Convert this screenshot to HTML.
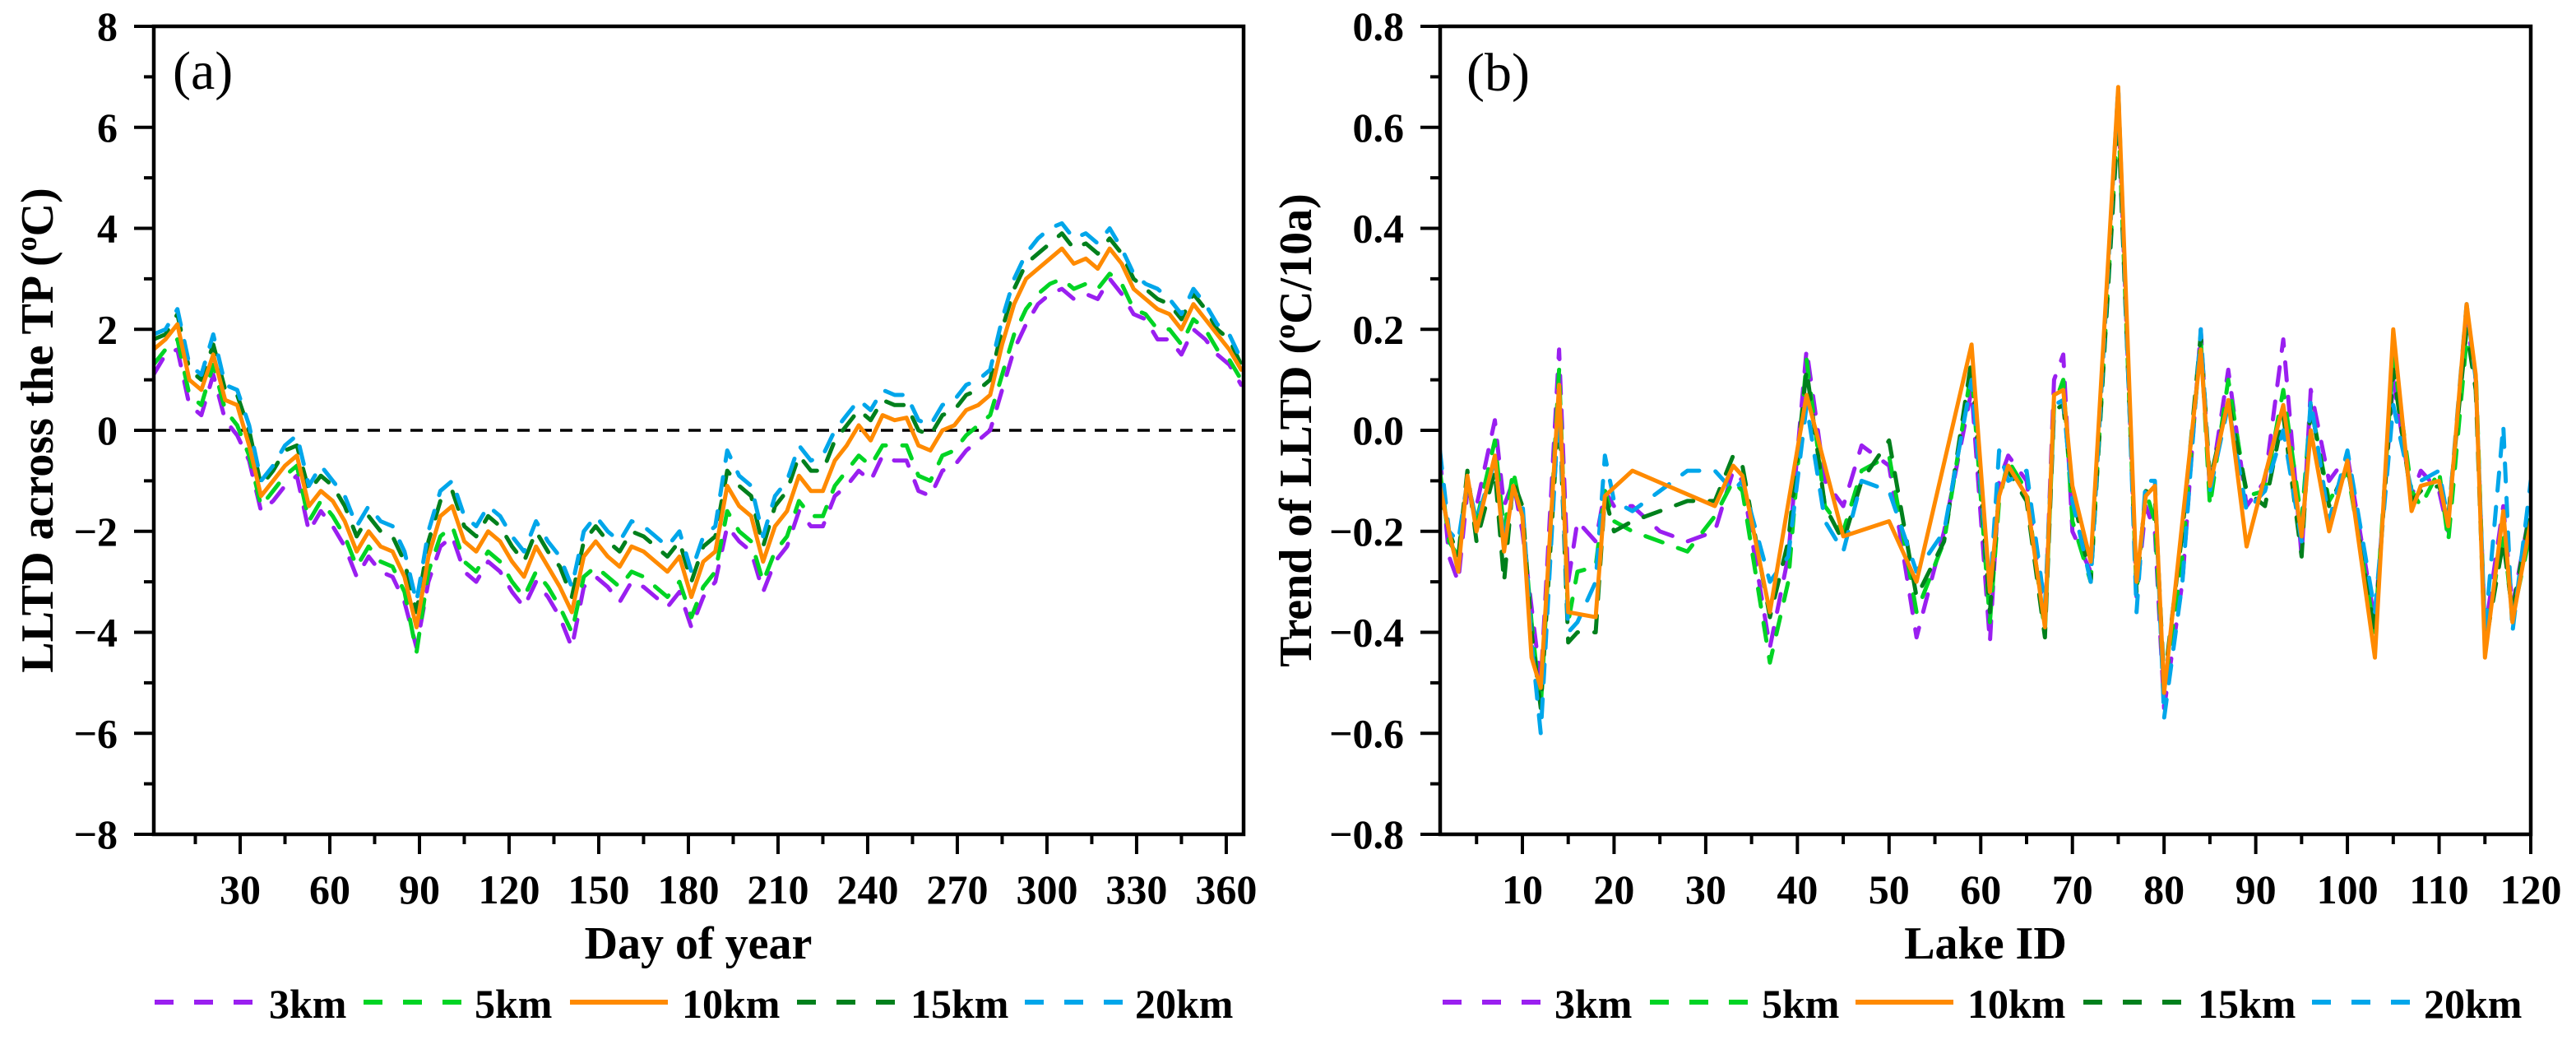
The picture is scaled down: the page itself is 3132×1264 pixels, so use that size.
<!DOCTYPE html>
<html><head><meta charset="utf-8"><style>
html,body{margin:0;padding:0;background:#fff;}
svg{display:block;}
text,tspan{font-family:"Liberation Serif","Times New Roman",serif;}
</style></head><body>
<svg id="fig" width="3132" height="1264" viewBox="0 0 3132 1264" xmlns="http://www.w3.org/2000/svg">
<rect width="3132" height="1264" fill="#fff"/>
<g id="pa"></g>
<g id="pb"></g>
</svg>
<script>
// ---------- Panel (a) data ----------
const dayStart = 1, dayStep = 4;
const aLabels = ["3km","5km","10km","15km","20km"];
const a3km = [1.1,1.5,1.6,0.5,0.3,1.1,0.2,-0.1,-0.6,-1.6,
-1.4,-1.1,-0.9,-2.0,-1.6,-1.9,-2.3,-2.9,-2.5,-2.8,
-2.9,-3.4,-4.3,-3.0,-2.3,-2.1,-2.8,-3.0,-2.6,-2.8,
-3.2,-3.5,-3.0,-3.3,-3.7,-4.3,-3.1,-2.9,-3.1,-3.4,
-3.0,-3.1,-3.3,-3.5,-3.2,-3.9,-3.3,-3.0,-1.9,-2.2,
-2.4,-3.2,-2.6,-2.3,-1.6,-1.9,-1.9,-1.3,-1.1,-0.8,
-1.0,-0.5,-0.6,-0.6,-1.2,-1.3,-0.8,-0.7,-0.4,-0.2,
0.0,0.8,1.6,2.1,2.5,2.7,2.8,2.6,2.7,2.6,
3.0,2.7,2.3,2.2,1.8,1.8,1.5,2.0,1.8,1.5,
1.3,0.9];
const a5km = [1.3,1.6,1.8,0.7,0.5,1.3,0.4,0.1,-0.5,-1.5,
-1.2,-0.9,-0.7,-1.8,-1.4,-1.7,-2.1,-2.7,-2.3,-2.6,
-2.7,-3.2,-4.4,-2.8,-2.1,-1.9,-2.6,-2.8,-2.4,-2.6,
-3.0,-3.3,-2.8,-3.1,-3.5,-4.0,-2.9,-2.7,-2.9,-3.1,
-2.8,-2.9,-3.1,-3.3,-3.0,-3.7,-3.1,-2.8,-1.6,-2.0,
-2.2,-3.0,-2.4,-2.1,-1.4,-1.7,-1.7,-1.1,-0.8,-0.5,
-0.7,-0.3,-0.3,-0.3,-0.9,-1.0,-0.5,-0.4,-0.1,0.1,
0.3,1.1,1.9,2.4,2.7,2.9,3.0,2.8,2.9,2.8,
3.1,2.9,2.4,2.3,2.0,2.0,1.7,2.2,2.0,1.6,
1.4,1.0];
const a10km = [1.6,1.8,2.1,1.0,0.8,1.5,0.6,0.5,-0.3,-1.3,
-1.0,-0.7,-0.5,-1.5,-1.2,-1.4,-1.8,-2.4,-2.0,-2.3,
-2.4,-2.9,-3.9,-2.5,-1.7,-1.5,-2.2,-2.4,-2.0,-2.2,
-2.6,-2.9,-2.3,-2.7,-3.1,-3.6,-2.5,-2.2,-2.5,-2.7,
-2.3,-2.4,-2.6,-2.8,-2.5,-3.3,-2.6,-2.4,-1.1,-1.5,
-1.7,-2.6,-1.9,-1.6,-0.9,-1.2,-1.2,-0.6,-0.3,0.1,
-0.2,0.3,0.2,0.25,-0.3,-0.4,0.0,0.1,0.4,0.5,
0.7,1.7,2.5,3.0,3.2,3.4,3.6,3.3,3.4,3.2,
3.6,3.3,2.8,2.6,2.4,2.3,2.0,2.5,2.2,1.9,
1.6,1.2];
const a15km = [1.8,1.9,2.3,1.2,1.0,1.7,0.8,0.7,0.0,-1.1,
-0.8,-0.4,-0.3,-1.2,-0.9,-1.1,-1.5,-2.1,-1.7,-2.0,
-2.1,-2.6,-3.6,-2.2,-1.4,-1.2,-1.9,-2.1,-1.7,-1.9,
-2.3,-2.6,-2.0,-2.4,-2.7,-3.3,-2.2,-1.9,-2.2,-2.4,
-2.0,-2.1,-2.3,-2.5,-2.2,-3.0,-2.3,-2.1,-0.8,-1.1,
-1.3,-2.3,-1.5,-1.2,-0.5,-0.8,-0.8,-0.2,0.1,0.4,
0.2,0.6,0.5,0.5,0.0,-0.1,0.3,0.4,0.7,0.8,
1.0,2.0,2.8,3.3,3.5,3.7,3.9,3.6,3.7,3.5,
3.8,3.5,3.0,2.8,2.6,2.5,2.2,2.7,2.4,2.0,
1.8,1.3];
const a20km = [1.9,2.0,2.4,1.3,1.1,1.9,0.9,0.8,0.1,-1.0,
-0.7,-0.3,-0.1,-1.1,-0.7,-1.0,-1.3,-1.9,-1.5,-1.8,
-1.9,-2.4,-3.4,-2.0,-1.2,-1.0,-1.7,-1.9,-1.5,-1.7,
-2.1,-2.4,-1.8,-2.2,-2.5,-3.1,-2.0,-1.7,-2.0,-2.2,
-1.8,-1.9,-2.1,-2.3,-2.0,-2.8,-2.1,-1.9,-0.4,-0.9,
-1.1,-2.1,-1.3,-1.0,-0.3,-0.6,-0.5,0.0,0.3,0.6,
0.4,0.8,0.7,0.7,0.2,0.1,0.5,0.6,0.9,1.0,
1.2,2.2,3.0,3.5,3.8,4.0,4.1,3.8,3.9,3.7,
4.0,3.6,3.1,2.9,2.8,2.6,2.3,2.8,2.5,2.1,
1.9,1.4];
const aXTicks = [30,60,90,120,150,180,210,240,270,300,330,360];
const aYTicks = [-8,-6,-4,-2,0,2,4,6,8];

// ---------- Panel (b) data ----------
const lakeIds = [1,2,3,4,5,7,8,9,10,11,12,14,15,16,18,19,20,22,25,28,31,33,34,37,39,41,43,45,47,50,53,56,59,61,62,63,65,67,68,69,70,72,75,77,78,79,80,82,84,85,87,89,91,93,95,96,98,100,103,105,107,108,110,111,113,114,115,117,118,120];
const b3km = [-0.05,-0.25,-0.3,-0.12,-0.15,0.02,-0.15,-0.1,-0.2,-0.35,-0.5,0.16,-0.3,-0.18,-0.22,-0.12,-0.15,-0.15,-0.2,-0.22,-0.2,-0.08,-0.1,-0.43,-0.25,0.16,-0.1,-0.15,-0.03,-0.07,-0.41,-0.2,0.08,-0.42,-0.1,-0.05,-0.1,-0.38,0.1,0.15,-0.2,-0.28,0.65,-0.33,-0.15,-0.2,-0.55,-0.3,0.2,-0.12,0.12,-0.15,-0.1,0.18,-0.25,0.08,-0.1,-0.05,-0.38,0.1,-0.13,-0.08,-0.12,-0.2,0.22,0.1,-0.4,-0.15,-0.35,-0.15];
const b5km = [-0.08,-0.22,-0.25,-0.1,-0.18,-0.02,-0.2,-0.08,-0.17,-0.38,-0.55,0.12,-0.38,-0.28,-0.27,-0.12,-0.18,-0.2,-0.22,-0.24,-0.17,-0.1,-0.12,-0.46,-0.3,0.14,-0.15,-0.2,-0.08,-0.05,-0.36,-0.22,0.12,-0.38,-0.14,-0.06,-0.12,-0.4,0.05,0.1,-0.18,-0.3,0.63,-0.32,-0.12,-0.18,-0.52,-0.25,0.18,-0.15,0.1,-0.13,-0.12,0.08,-0.18,0.05,-0.14,-0.08,-0.4,0.15,-0.12,-0.15,-0.08,-0.22,0.18,0.12,-0.42,-0.2,-0.37,-0.2];
const b10km = [-0.11,-0.2,-0.28,-0.09,-0.2,-0.05,-0.24,-0.11,-0.17,-0.45,-0.51,0.09,-0.36,null,-0.37,-0.13,null,-0.08,null,null,-0.15,-0.07,-0.09,-0.36,null,0.07,null,-0.21,null,-0.18,-0.30,null,0.17,-0.32,-0.13,-0.07,-0.13,-0.39,0.07,0.08,-0.11,-0.26,0.68,-0.30,-0.13,-0.11,-0.52,null,0.16,-0.11,0.06,-0.23,null,0.05,-0.21,0.0,-0.2,-0.06,-0.45,0.2,-0.16,-0.11,-0.1,-0.19,0.25,0.11,-0.45,-0.16,-0.38,-0.18];
const b15km = [-0.12,-0.2,-0.25,-0.08,-0.22,-0.08,-0.3,-0.1,-0.15,-0.4,-0.55,0.05,-0.42,-0.4,-0.4,-0.13,-0.2,-0.18,-0.16,-0.14,-0.14,-0.05,-0.07,-0.37,-0.22,0.12,-0.15,-0.22,-0.1,-0.02,-0.33,-0.22,0.14,-0.36,-0.12,-0.08,-0.14,-0.41,0.04,0.05,-0.12,-0.3,0.62,-0.32,-0.12,-0.13,-0.5,-0.2,0.19,-0.1,0.06,-0.12,-0.15,0.03,-0.25,0.05,-0.15,-0.07,-0.4,0.12,-0.14,-0.12,-0.11,-0.17,0.2,0.08,-0.43,-0.22,-0.36,-0.15];
const b20km = [-0.04,-0.2,-0.22,-0.1,-0.18,-0.06,-0.22,-0.12,-0.14,-0.42,-0.6,0.06,-0.4,-0.38,-0.3,-0.05,-0.14,-0.16,-0.12,-0.08,-0.08,-0.12,-0.1,-0.3,-0.25,0.05,-0.18,-0.24,-0.1,-0.12,-0.28,-0.2,0.1,-0.32,-0.04,-0.1,-0.08,-0.35,0.05,0.06,-0.14,-0.3,0.68,-0.36,-0.1,-0.1,-0.57,-0.3,0.2,-0.12,0.05,-0.16,-0.12,0.0,-0.22,0.06,-0.18,-0.04,-0.36,0.05,-0.12,-0.1,-0.08,-0.18,0.25,0.1,-0.4,0.01,-0.4,-0.1];
const bXTicks = [10,20,30,40,50,60,70,80,90,100,110,120];
const bYTicks = [-0.8,-0.6,-0.4,-0.2,0.0,0.2,0.4,0.6,0.8];

const colors = ["#9a1ff0","#00d424","#ff8a00","#00801c","#00a6ea"];
const dashes = ["22 20","22 20",null,"22 20","22 20"];

const NS = "http://www.w3.org/2000/svg";
function mk(tag, attrs, parent){const e=document.createElementNS(NS,tag);for(const k in attrs)e.setAttribute(k,attrs[k]);parent.appendChild(e);return e;}

function drawPanel(g, cfg){
  const {L,R,T,B,xmin,xmax,ymin,ymax} = cfg;
  const sx = v => L + (v - xmin) / (xmax - xmin) * (R - L);
  const sy = v => B - (v - ymin) / (ymax - ymin) * (B - T);
  const cp = mk("clipPath",{id:cfg.id+"clip"},g);
  mk("rect",{x:L,y:T,width:R-L,height:B-T},cp);
  const sg = mk("g",{"clip-path":"url(#"+cfg.id+"clip)"},g);
  if(cfg.zero){
    const z = mk("line",{x1:L,x2:R,y1:sy(0),y2:sy(0),stroke:"#000","stroke-width":3.5,"stroke-dasharray":"15 11"},sg);
    
    
  }
  const order=[0,1,3,4,2];
  order.forEach(i=>{
    const vals = cfg.series[i];
    let d="";
    vals.forEach((v,j)=>{ if(v===null) return; d += (d?"L":"M")+sx(cfg.xs[j]).toFixed(1)+","+sy(v).toFixed(1); });
    const p = mk("path",{d:d,fill:"none",stroke:colors[i],"stroke-width":5,"stroke-linejoin":"round","stroke-linecap":"round"},sg);
    if(dashes[i]) p.setAttribute("stroke-dasharray",dashes[i]);
    
    
  });
  const fr = mk("rect",{x:L,y:T,width:R-L,height:B-T,fill:"none",stroke:"#000","stroke-width":4.5},g);
  
  
  cfg.xTicks.forEach(t=>{
    const x=sx(t);
    mk("line",{x1:x,x2:x,y1:B,y2:B+24,stroke:"#000","stroke-width":4},g);
    const tx=mk("text",{x:x,y:B+84,"text-anchor":"middle","font-size":50,"style":"font-weight:bold"},g);
    tx.textContent=t;
    
    
  });
  cfg.xMinor.forEach(t=>{const x=sx(t);mk("line",{x1:x,x2:x,y1:B,y2:B+12,stroke:"#000","stroke-width":4},g);});
  cfg.yTicks.forEach(t=>{
    const y=sy(t);
    mk("line",{x1:L-24,x2:L,y1:y,y2:y,stroke:"#000","stroke-width":4},g);
    const tx=mk("text",{x:L-44,y:y+17,"text-anchor":"end","font-size":50,"style":"font-weight:bold"},g);
    tx.textContent=cfg.fmt(t);
    
    
  });
  cfg.yMinor.forEach(t=>{const y=sy(t);mk("line",{x1:L-12,x2:L,y1:y,y2:y,stroke:"#000","stroke-width":4},g);});
}

const pa=document.getElementById("pa"), pb=document.getElementById("pb");
const days=[]; for(let i=0;i<a10km.length;i++) days.push(dayStart+i*dayStep);
drawPanel(pa,{id:"a",L:187,R:1512,T:32,B:1014,xmin:1.1,xmax:365.8,ymin:-8,ymax:8,zero:true,
  xs:days,series:[a3km,a5km,a10km,a15km,a20km],xTicks:aXTicks,xMinor:[15,45,75,105,135,165,195,225,255,285,315,345],
  yTicks:aYTicks,yMinor:[-7,-5,-3,-1,1,3,5,7],fmt:t=>t<0?"\u2212"+Math.abs(t):String(t)});
drawPanel(pb,{id:"b",L:1751,R:3077,T:32,B:1014,xmin:1.03,xmax:120,ymin:-0.8,ymax:0.8,zero:false,
  xs:lakeIds,series:[b3km,b5km,b10km,b15km,b20km],xTicks:bXTicks,xMinor:[5,15,25,35,45,55,65,75,85,95,105,115],
  yTicks:bYTicks,yMinor:[-0.7,-0.5,-0.3,-0.1,0.1,0.3,0.5,0.7],fmt:t=>(t<0?"\u2212":"")+Math.abs(t).toFixed(1)});

function legend(g,items){
  items.forEach(it=>{
    const ln=mk("line",{x1:it.lx,x2:it.lx+119,y1:1218,y2:1218,stroke:colors[it.i],"stroke-width":6},g);
    if(dashes[it.i]) ln.setAttribute("stroke-dasharray","23 25");
    
    
    const t=mk("text",{x:it.tx,y:1237,"font-size":50,"style":"font-weight:bold"},g);
    t.textContent=aLabels[it.i];
    
    
  });
}
legend(pa,[{i:0,lx:188,tx:327},{i:1,lx:442,tx:577},{i:2,lx:693,tx:829},{i:3,lx:969,tx:1107},{i:4,lx:1246,tx:1380}]);
legend(pb,[{i:0,lx:1754,tx:1890},{i:1,lx:2006,tx:2142},{i:2,lx:2256,tx:2392},{i:3,lx:2533,tx:2672},{i:4,lx:2811,tx:2947}]);
</script>
<svg style="position:absolute;left:0;top:0" width="3132" height="1264" viewBox="0 0 3132 1264" xmlns="http://www.w3.org/2000/svg">
<text x="210" y="108" font-size="66">(a)</text>
<text x="1783" y="110" font-size="66">(b)</text>
<text x="849" y="1165" font-size="56" style="font-weight:bold" text-anchor="middle">Day of year</text>
<text x="2414" y="1165" font-size="56" style="font-weight:bold" text-anchor="middle">Lake ID</text>
<text transform="translate(64,523) rotate(-90)" font-size="56" style="font-weight:bold" text-anchor="middle">LLTD across the TP (<tspan font-size="36" dy="-20">o</tspan><tspan dy="20">C)</tspan></text>
<text transform="translate(1594,523) rotate(-90)" font-size="56" style="font-weight:bold" text-anchor="middle">Trend of LLTD (<tspan font-size="36" dy="-20">o</tspan><tspan dy="20">C/10a)</tspan></text>
</svg>
</body></html>
